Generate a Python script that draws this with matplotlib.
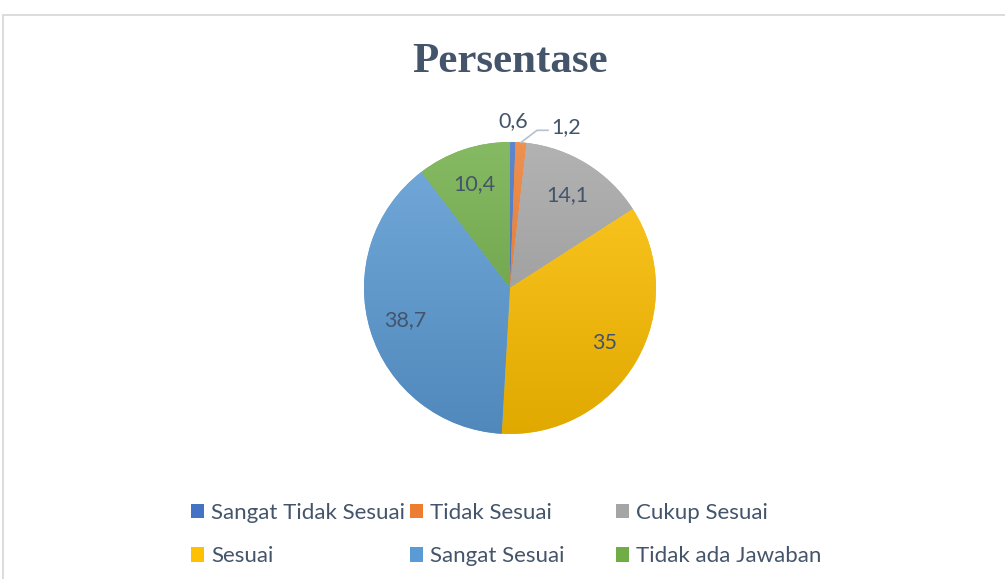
import numpy as np
import matplotlib.pyplot as plt
from matplotlib.patches import Patch, Rectangle
from matplotlib.colors import to_rgb

categories = ['Sangat Tidak Sesuai', 'Tidak Sesuai', 'Cukup Sesuai',
              'Sesuai', 'Sangat Sesuai', 'Tidak ada Jawaban']
values = [0.6, 1.2, 14.1, 35, 38.7, 10.4]
value_labels = ['0,6', '1,2', '14,1', '35', '38,7', '10,4']
colors = ['#4472C4', '#ED7D31', '#A5A5A5', '#FFC000', '#5B9BD5', '#70AD47']
title = 'Persentase'

text_color = '#44546A'
font = ['Lato', 'DejaVu Sans']

W, H = 1005, 579
fig = plt.figure(figsize=(W / 100, H / 100), dpi=100)

# outer chart frame (cut off on right / bottom like the source screenshot)
fig.patches.append(Rectangle((3 / W, -0.5), 2, (1 - 15 / H) + 0.5,
                             transform=fig.transFigure, fill=False,
                             edgecolor='#D9D9D9', lw=1.3))

# axes placed so the pie sits at (510, 288) px with radius 146 px
cx, cy, r_px, k = 510, 288, 146, 1.3
half = r_px * k
ax = fig.add_axes([(cx - half) / W, (H - cy - half) / H, 2 * half / W, 2 * half / H])

wedges, _ = ax.pie(values, colors=colors, startangle=90, counterclock=False,
                   wedgeprops=dict(linewidth=0))

# vertical gradient fill inside each wedge, like the office style
grad = np.linspace(0, 1, 256).reshape(-1, 1, 1)
for w, c in zip(wedges, colors):
    base = np.array(to_rgb(c))
    top = base + (1 - base) * 0.15
    bot = base * 0.88
    img = top * (1 - grad) + bot * grad
    img = np.repeat(img, 2, axis=1)
    im = ax.imshow(img, extent=(-1, 1, -1, 1), origin='upper',
                   interpolation='bilinear', zorder=w.get_zorder() + 0.1)
    im.set_clip_path(w)

ax.set_xlim(-k, k)
ax.set_ylim(-k, k)
ax.axis('off')

# data labels
lab_size = 15.5
for i, (w, lab) in enumerate(zip(wedges, value_labels)):
    ang = np.deg2rad((w.theta1 + w.theta2) / 2)
    if values[i] > 5:
        ax.text(0.75 * np.cos(ang), 0.75 * np.sin(ang), lab, ha='center', va='center',
                fontsize=lab_size, color=text_color, family=font, zorder=10)
    elif i == 0:
        ax.text(1.14 * np.cos(ang), 1.14 * np.sin(ang), lab, ha='center', va='center',
                fontsize=lab_size, color=text_color, family=font, zorder=10)
    else:
        x0, y0 = np.cos(ang), np.sin(ang)
        ax.plot([x0, 0.185, 0.26], [y0, 1.08, 1.08], color='#B4C0CF', lw=1.2,
                clip_on=False, zorder=9)
        ax.text(0.285, 1.105, lab, ha='left', va='center',
                fontsize=lab_size, color=text_color, family=font, zorder=10)

fig.text(cx / W, 1 - 62 / H, title, ha='center', va='center', fontsize=31,
         fontweight='bold', family=['Liberation Serif', 'DejaVu Serif'], color=text_color)

# legend: 3 columns, filled row-wise
col_x = [191, 410, 616]
for j, x in enumerate(col_x):
    handles = [Patch(facecolor=colors[i], edgecolor='none', label=categories[i])
               for i in (j, j + 3)]
    fig.legend(handles=handles, loc='upper left', bbox_to_anchor=(x / W, 1 - 503 / H),
               frameon=False, borderpad=0, borderaxespad=0, handlelength=0.6,
               handleheight=0.6, handletextpad=0.3, labelspacing=1.05,
               prop=dict(family=font, size=16), labelcolor=text_color)

fig.savefig('out.png', dpi=100)
